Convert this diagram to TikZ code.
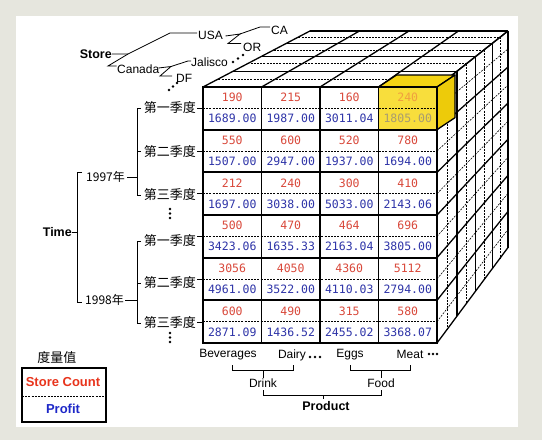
\documentclass[tikz,border=0pt]{standalone}
\usepackage{fontspec}
\setmainfont{Liberation Sans}
\newfontfamily\cjk{Noto Sans CJK SC}
\newfontfamily\cellfont{DejaVu Sans Mono}
\usetikzlibrary{calc}
\definecolor{bggray}{HTML}{E6E6DE}
\definecolor{numred}{HTML}{D9483A}
\definecolor{numblue}{HTML}{2E34A8}
\definecolor{legred}{HTML}{E8341C}
\definecolor{legblue}{HTML}{1E28C8}
\definecolor{yfront}{HTML}{F8DE3C}
\definecolor{ytop}{HTML}{F4D414}
\definecolor{yside}{HTML}{EDCB0A}
\definecolor{ynumt}{HTML}{F0A040}
\definecolor{ynumb}{HTML}{A89C70}
\tikzset{
  thickline/.style={line width=1.8pt},
  faceline/.style={line width=1.3pt},
  dashline/.style={line width=0.6pt, dash pattern=on 2pt off 1.2pt},
  treeline/.style={line width=0.8pt},
  cellnum/.style={font=\cellfont\fontsize{11.5}{12}\selectfont, inner sep=0pt},
  lab/.style={font=\fontsize{12}{14}\selectfont, inner sep=0pt},
  boldlab/.style={font=\bfseries\fontsize{12.5}{14}\selectfont, inner sep=0pt},
  qlab/.style={font=\cjk\fontsize{13}{14}\selectfont, inner sep=0pt, anchor=east},
  ylab/.style={font=\cjk\fontsize{12}{14}\selectfont, inner sep=0pt, anchor=west},
  dotmark/.style={fill=black, draw=none}
}
\begin{document}
\begin{tikzpicture}[x=1pt,y=-1pt]
\useasboundingbox (0,0) rectangle (542,440);
% background frame
\fill[bggray] (0,0) rectangle (542,440);
\fill[white] (16,16) rectangle (518,427);

\coordinate (VP) at (898,-277);
% ---- top face
\foreach \k in {1,0.95648,0.91659,0.87989,0.84602}
  \draw[faceline] ($(VP)!\k!(203,87)$) -- ($(VP)!\k!(437,87)$);
\foreach \k in {0.97776,0.93611,0.89787,0.86262}
  \draw[dashline] ($(VP)!\k!(203,87)$) -- ($(VP)!\k!(437,87)$);
\foreach \x in {203,261.5,320,378.5,437}
  \draw[faceline] (\x,87) -- ($(VP)!0.84602!(\x,87)$);
% ---- right face
\foreach \k in {0.97776,0.93611,0.89787,0.86262}
  \draw[dashline] ($(VP)!\k!(437,87)$) -- ($(VP)!\k!(437,343)$);
\foreach \r in {0,...,5}
  \draw[dashline] (437,{87+42.6667*(\r+0.5)}) -- ($(VP)!0.84602!(437,{87+42.6667*(\r+0.5)})$);
\foreach \k in {1,0.95648,0.91659,0.87989,0.84602}
  \draw[faceline] ($(VP)!\k!(437,87)$) -- ($(VP)!\k!(437,343)$);
\foreach \r in {0,...,6}
  \draw[faceline] (437,{87+42.6667*\r}) -- ($(VP)!0.84602!(437,{87+42.6667*\r})$);
% ---- highlighted cell
\fill[yfront] (378.5,87) rectangle (437,129.67);
\filldraw[fill=ytop, faceline, line join=round] (378.5,87) -- (396.5,75) -- (455,75) -- (437,87) -- cycle;
\filldraw[fill=yside, faceline, line join=round] (437,87) -- (455,75) -- (455,117.67) -- (437,129.67) -- cycle;
% ---- front face
\foreach \r in {0,...,5}
  \draw[dashline] (203,{87+42.6667*(\r+0.5)}) -- (437,{87+42.6667*(\r+0.5)});
\foreach \x in {261.5,320,378.5}
  \draw[thickline] (\x,87) -- (\x,343);
\foreach \r in {1,...,5}
  \draw[thickline] (203,{87+42.6667*\r}) -- (437,{87+42.6667*\r});
\draw[thickline] (203,87) rectangle (437,343);
% ---- cell numbers
\foreach \c/\r/\t/\b/\ct/\cb in {
  1/1/190/1689.00/numred/numblue, 2/1/215/1987.00/numred/numblue, 3/1/160/3011.04/numred/numblue, 4/1/240/1805.00/ynumt/ynumb,
  1/2/550/1507.00/numred/numblue, 2/2/600/2947.00/numred/numblue, 3/2/520/1937.00/numred/numblue, 4/2/780/1694.00/numred/numblue,
  1/3/212/1697.00/numred/numblue, 2/3/240/3038.00/numred/numblue, 3/3/300/5033.00/numred/numblue, 4/3/410/2143.06/numred/numblue,
  1/4/500/3423.06/numred/numblue, 2/4/470/1635.33/numred/numblue, 3/4/464/2163.04/numred/numblue, 4/4/696/3805.00/numred/numblue,
  1/5/3056/4961.00/numred/numblue, 2/5/4050/3522.00/numred/numblue, 3/5/4360/4110.03/numred/numblue, 4/5/5112/2794.00/numred/numblue,
  1/6/600/2871.09/numred/numblue, 2/6/490/1436.52/numred/numblue, 3/6/315/2455.02/numred/numblue, 4/6/580/3368.07/numred/numblue}
{
  \node[cellnum, text=\ct] (top\c\r) at ({203+58.5*(\c-0.5)},{87+42.6667*(\r-1)+10.8}) {\t};
  \node[cellnum, text=\cb] (bot\c\r) at ({203+58.5*(\c-0.5)},{87+42.6667*(\r-1)+31.6}) {\b};
}

% ---- Store tree
\node[boldlab, anchor=east] (store) at (112,54) {Store};
\node[lab, anchor=west] (usa) at (198,35) {USA};
\node[lab, anchor=west] (canada) at (117,69) {Canada};
\node[lab, anchor=west] (ca) at (271,30) {CA};
\node[lab, anchor=west] (or) at (243,47) {OR};
\node[lab, anchor=west] (jalisco) at (191,62) {Jalisco};
\node[lab, anchor=west] (df) at (176,78.5) {DF};
\coordinate (sj) at (128,54);
\draw[treeline] (store.east) -- (sj) -- (170,33) -- (197,33);
\draw[treeline] (sj) -- (108,66) -- (116.5,66);
\draw[treeline] (158.5,68) -- (171,66.5) -- (160,76) -- (172,76);
\draw[treeline] (171,66.5) -- (188,61) -- (191,61);
\draw[treeline] (225.5,36) -- (240,34) -- (228,43.5) -- (241,43.5);
\draw[treeline] (240,34) -- (260,27) -- (270,27);
\foreach \p in {(233,62),(238,58.5),(243,55),(169,90),(173,86.5),(177,83)}
  \fill[dotmark] \p circle (1.4);

% ---- Time tree
\node[boldlab, anchor=east] (time) at (72,232) {Time};
\node[ylab] (y1997) at (86,176.5) {1997年};
\node[ylab] (y1998) at (85,300) {1998年};
\draw[treeline] (time.east) -- (77,232);
\draw[treeline] (82,172) -- (77,172) -- (77,302) -- (82,302);
\draw[treeline] (127,177) -- (137,177);
\draw[treeline] (125,300.5) -- (137,300.5);
\draw[treeline] (141,108) -- (137,108) -- (137,195) -- (141,195);
\draw[treeline] (137,151.5) -- (141,151.5);
\draw[treeline] (141,241) -- (137,241) -- (137,323) -- (141,323);
\draw[treeline] (137,283) -- (141,283);
\foreach \n/\yy/\t in {a/108/第一季度, b/151.5/第二季度, c/195/第三季度, d/241/第一季度, e/283/第二季度, f/323/第三季度}
  \node[qlab] (q\n) at (196,\yy) {\t};
\foreach \yy in {108.5,151.2,193.8,236.7,279.3,322}
  \draw[treeline] (197,\yy) -- (203,\yy);
\foreach \yy in {209,213.5,218,333,337.5,342}
  \fill[dotmark] (170,\yy) circle (1.4);

% ---- Product tree
\node[lab] (bev) at (228,355) {Beverages};
\node[lab] (dairy) at (292,355) {Dairy};
\node[lab] (eggs) at (350,355) {Eggs};
\node[lab] (meat) at (410,354) {Meat};
\node[lab] (drink) at (263,383) {Drink};
\node[lab] (food) at (381,383) {Food};
\node[boldlab] (product) at (326,406) {Product};
\foreach \p in {(310,357),(315,357),(320,357),(429,354),(433,354),(437,354)}
  \fill[dotmark] \p circle (1.4);
\draw[treeline] (232,365) -- (232,370) -- (293,370) -- (293,365);
\draw[treeline] (263,370) -- (drink.north);
\draw[treeline] (350,365) -- (350,370) -- (410,370) -- (410,365);
\draw[treeline] (381,370) -- (food.north);
\draw[treeline] (263,390) -- (263,395) -- (381,395) -- (381,390);
\draw[treeline] (323,395) -- (323,399);

% ---- legend
\node[font=\cjk\fontsize{13}{14}\selectfont, inner sep=0pt] (legtitle) at (57,358) {度量值};
\draw[line width=1.8pt] (22,368) rectangle (106,422);
\draw[dashline] (22,396) -- (106,396);
\node[font=\bfseries\fontsize{13}{14}\selectfont, text=legred, inner sep=0pt] (lsc) at (63,382) {Store Count};
\node[font=\bfseries\fontsize{13}{14}\selectfont, text=legblue, inner sep=0pt] (lpr) at (63,408.5) {Profit};
\end{tikzpicture}
\end{document}
